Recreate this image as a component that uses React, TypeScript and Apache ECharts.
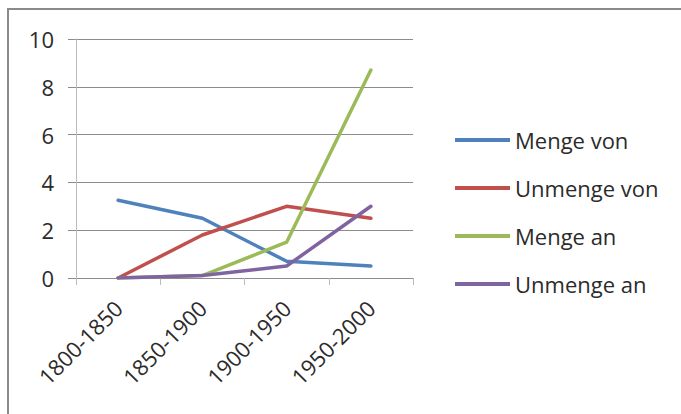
import React, { useEffect, useRef } from "react";
import * as echarts from "echarts";

const categories = ["1800-1850", "1850-1900", "1900-1950", "1950-2000"];
const mengeVon = [3.25, 2.5, 0.7, 0.5];
const unmengeVon = [0, 1.8, 3.0, 2.5];
const mengeAn = [0, 0.1, 1.5, 8.7];
const unmengeAn = [0, 0.1, 0.5, 3.0];
const seriesNames = ["Menge von", "Unmenge von", "Menge an", "Unmenge an"];
const colors = ["#4F81BD", "#C0504D", "#9BBB59", "#8064A2"];

const FONT = "'Open Sans', 'Noto Sans', sans-serif";
const TEXT = "#2b2b2b";

export default function App() {
  const ref = useRef<HTMLDivElement>(null);
  useEffect(() => {
    if (!ref.current) return;
    const chart = echarts.init(ref.current, undefined, { renderer: "svg" });
    const data = [mengeVon, unmengeVon, mengeAn, unmengeAn];
    chart.setOption({
      animation: false,
      backgroundColor: "#ffffff",
      color: colors,
      textStyle: { fontFamily: FONT },
      graphic: [
        {
          type: "rect",
          shape: { x: 8, y: 9, width: 800, height: 600 },
          style: { fill: "none", stroke: "#8a8a8a", lineWidth: 2 },
          silent: true,
        },
      ],
      grid: { left: 76, right: 268, top: 39, bottom: 136 },
      legend: {
        orient: "vertical",
        left: 455,
        top: 129,
        padding: 0,
        icon: "rect",
        itemWidth: 55,
        itemHeight: 4,
        itemGap: 26,
        data: seriesNames,
        textStyle: { fontFamily: FONT, fontSize: 22, color: TEXT, lineHeight: 22 },
      },
      xAxis: {
        type: "category",
        data: categories,
        boundaryGap: true,
        axisLine: { show: true, lineStyle: { color: "#8c8c8c", width: 1 } },
        axisTick: { show: true, alignWithLabel: false, length: 7, lineStyle: { color: "#bcbcbc" } },
        axisLabel: {
          rotate: 45,
          margin: 26,
          interval: 0,
          fontFamily: FONT,
          fontSize: 22,
          color: TEXT,
        },
        splitLine: { show: false },
      },
      yAxis: {
        type: "value",
        min: 0,
        max: 10,
        interval: 2,
        axisLine: { show: true, lineStyle: { color: "#bcbcbc", width: 1 } },
        axisTick: { show: true, length: 8, lineStyle: { color: "#8c8c8c" } },
        axisLabel: { margin: 22, fontFamily: FONT, fontSize: 22, color: TEXT },
        splitLine: { show: true, lineStyle: { color: "#8c8c8c", width: 1 } },
      },
      series: seriesNames.map((name, i) => ({
        name,
        type: "line",
        data: data[i],
        symbol: "none",
        lineStyle: { width: 3.5, color: colors[i], cap: "round", join: "round" },
        itemStyle: { color: colors[i] },
        z: 2 + i,
      })),
    });
    return () => chart.dispose();
  }, []);
  return (
    <div
      ref={ref}
      style={{ position: "fixed", left: 0, top: 0, width: 681, height: 414, background: "#fff" }}
    />
  );
}
